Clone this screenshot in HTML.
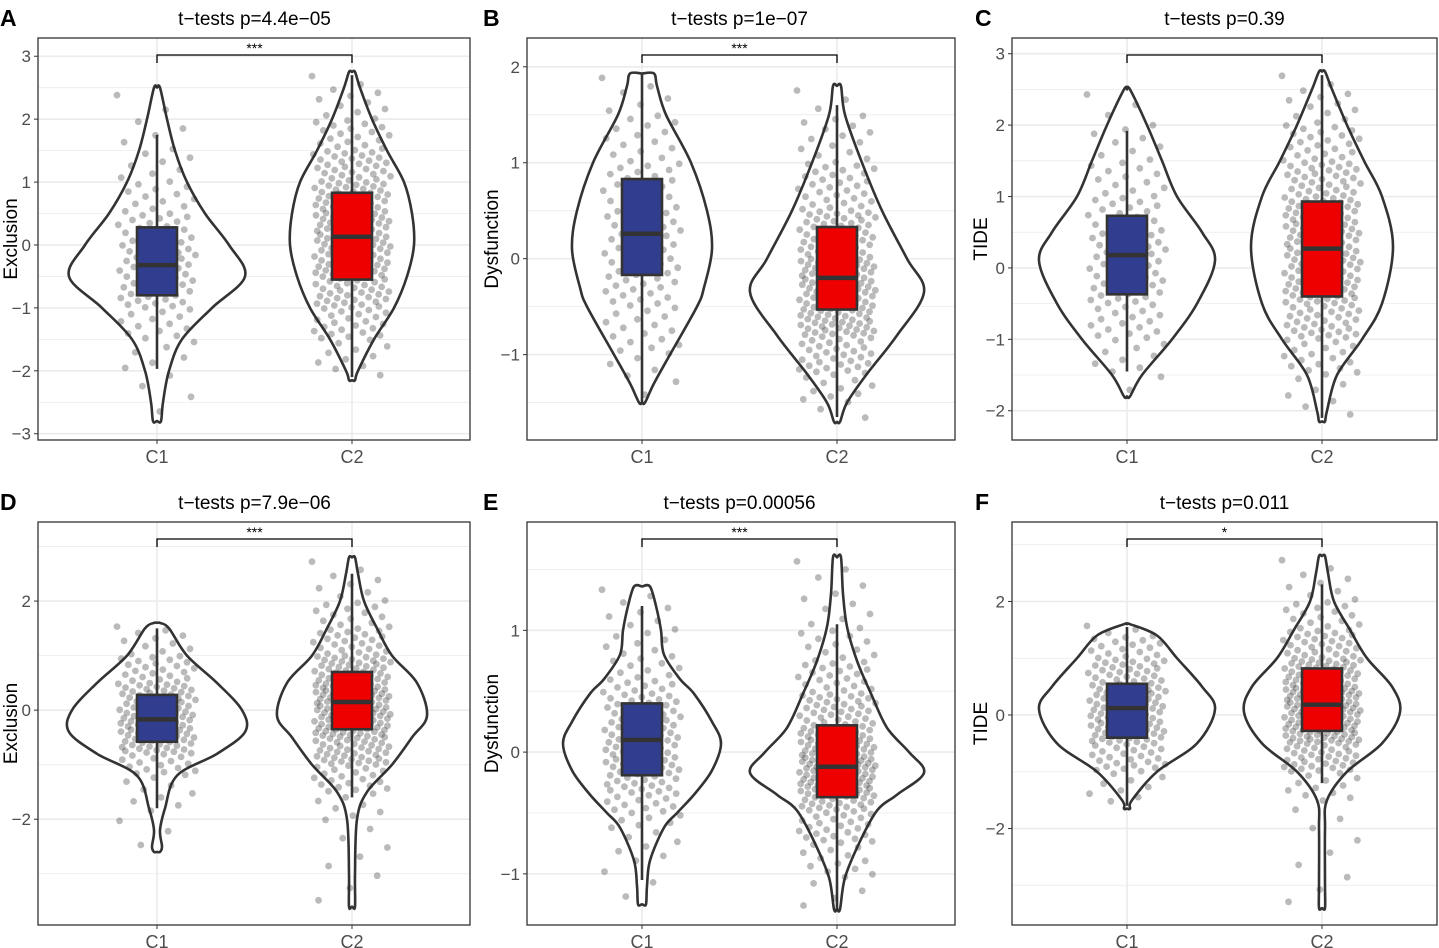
<!DOCTYPE html>
<html><head><meta charset="utf-8">
<style>
body{margin:0;background:#fff;}
svg{display:block;font-family:"Liberation Sans",Arial,sans-serif;}
</style></head>
<body>
<svg id="chart" width="1439" height="948" viewBox="0 0 1439 948"></svg>
<script>
// ---- data ----
const groups = ["C1", "C2"];
const panelLetters = ["A","B","C","D","E","F"];
const panelTitles = ["t\u2212tests p=4.4e\u221205","t\u2212tests p=1e\u221207","t\u2212tests p=0.39","t\u2212tests p=7.9e\u221206","t\u2212tests p=0.00056","t\u2212tests p=0.011"];
const yLabels = ["Exclusion","Dysfunction","TIDE","Exclusion","Dysfunction","TIDE"];
const stars = ["***","***","","***","***","*"];
const yTicks = [[-3,-2,-1,0,1,2,3],[-1,0,1,2],[-2,-1,0,1,2,3],[-2,0,2],[-1,0,1],[-2,0,2]];
const yDomains = [[-3.10,3.29],[-1.89,2.30],[-2.41,3.22],[-3.94,3.45],[-1.42,1.89],[-3.70,3.40]];
// violin density profiles: values and half-widths (px) for each panel [C1, C2]
const violinValues = [
 [[2.5,2,1.5,1,0.5,0,-0.5,-1,-1.5,-2,-2.5,-2.8],[2.75,2.5,2,1.5,1,0.5,0,-0.5,-1,-1.5,-2,-2.15]],
 [[1.93,1.8,1.5,1,0.5,0.1,-0.3,-0.5,-1,-1.3,-1.5],[1.8,1.5,1,0.5,0,-0.35,-0.8,-1.2,-1.5,-1.7]],
 [[2.5,2,1.5,1,0.5,0.1,-0.5,-1,-1.5,-1.8],[2.75,2.5,2,1.5,1,0.3,-0.5,-1,-1.5,-2,-2.15]],
 [[1.6,1.5,1,0.5,0,-0.4,-0.8,-1.2,-1.8,-2.2,-2.5,-2.6],[2.8,2.5,2,1.5,1,0.5,-0.1,-0.5,-1,-1.5,-2,-3,-3.6]],
 [[1.36,1.2,1.0,0.8,0.6,0.48,0.25,0.07,-0.15,-0.34,-0.5,-0.62,-0.89,-1.1,-1.25],[1.6,1.3,1.03,0.75,0.48,0.2,0,-0.17,-0.35,-0.48,-0.75,-1.03,-1.29]],
 [[1.6,1.4,1,0.5,0.1,-0.5,-1,-1.5,-1.65],[2.8,2.5,2,1.5,1,0.5,0.05,-0.5,-1,-1.5,-2,-3,-3.4]]
];
const violinWidths = [
 [[3,10,18,30,48,72,88,55,25,12,6,4],[3,8,20,35,52,60,62,55,42,22,6,3]],
 [[12,15,24,49,65,70,62,55,28,12,3],[4,8,25,45,70,87,60,30,10,3]],
 [[3,20,35,50,75,88,70,45,15,3],[3,10,25,42,60,71,60,40,15,5,3]],
 [[3,12,30,60,85,88,60,20,8,3,5,3],[3,6,12,25,40,65,75,60,40,15,5,3,3]],
 [[8,14,19,22,38,52,70,79,70,53,35,22,8,5,4],[4,6,10,20,34,50,72,87,60,40,22,8,3]],
 [[3,30,50,75,88,70,30,5,3],[3,6,12,28,45,70,78,60,25,5,3,3,3]]
];
// box stats [whiskerLow, q1, median, q3, whiskerHigh]
const boxStats = [
 [[-1.97,-0.8,-0.32,0.28,1.75],[-2.1,-0.55,0.13,0.83,2.7]],
 [[-1.5,-0.17,0.26,0.83,1.93],[-1.65,-0.53,-0.2,0.33,1.6]],
 [[-1.45,-0.37,0.18,0.73,1.92],[-2.1,-0.4,0.27,0.93,2.7]],
 [[-1.8,-0.58,-0.17,0.28,1.5],[-1.6,-0.35,0.15,0.7,2.5]],
 [[-1.05,-0.19,0.1,0.4,1.2],[-1.3,-0.37,-0.12,0.22,1.05]],
 [[-1.6,-0.4,0.12,0.55,1.55],[-1.2,-0.28,0.18,0.82,2.3]]
];
const sampleSizes = [[120,250],[120,250],[120,250],[160,260],[160,260],[160,260]];
const boxColors = ["#313d8f","#ee0000"];

// ---- layout ----
const plotX = [[38,470],[527,955],[1012,1437]];
const groupX = [[157,352],[642,837],[1127,1322]];
const plotY = [[38,440],[522,925]];
const svg = document.getElementById('chart');
const NS = "http://www.w3.org/2000/svg";
function mk(tag, attrs, parent){const e=document.createElementNS(NS,tag);for(const k in attrs)e.setAttribute(k,attrs[k]);(parent||svg).appendChild(e);return e;}

function smoothPath(pts){
  let d="M"+pts[0][0]+","+pts[0][1];
  for(let i=0;i<pts.length-1;i++){
    const p0=pts[Math.max(0,i-1)],p1=pts[i],p2=pts[i+1],p3=pts[Math.min(pts.length-1,i+2)];
    const c1=[p1[0]+(p2[0]-p0[0])/6,p1[1]+(p2[1]-p0[1])/6];
    const c2=[p2[0]-(p3[0]-p1[0])/6,p2[1]-(p3[1]-p1[1])/6];
    d+=" C"+c1[0].toFixed(1)+","+c1[1].toFixed(1)+" "+c2[0].toFixed(1)+","+c2[1].toFixed(1)+" "+p2[0].toFixed(1)+","+p2[1].toFixed(1);
  }
  return d;
}

for(let p=0;p<6;p++){
  const col=p%3,row=Math.floor(p/3);
  const [x0,x1]=plotX[col],[y0,y1]=plotY[row];
  const [dmin,dmax]=yDomains[p];
  const yS=v=>y1-(v-dmin)/(dmax-dmin)*(y1-y0);
  const xC=groupX[col];
  const g=mk('g',{});
  
  
  mk('rect',{x:x0,y:y0,width:x1-x0,height:y1-y0,fill:'#fff'},g);
  const tk=yTicks[p]; const step=tk[1]-tk[0];
  for(let v=tk[0]-step/2;v<=dmax;v+=step/2){
    if(v<dmin)continue;
    const major=tk.some(t=>Math.abs(t-v)<1e-6);
    const gl=mk('line',{x1:x0,x2:x1,y1:yS(v),y2:yS(v),stroke:'#ebebeb','stroke-width':major?1.6:0.8},g);
    
    
  }
  xC.forEach(x=>{const gl=mk('line',{x1:x,x2:x,y1:y0,y2:y1,stroke:'#ebebeb','stroke-width':1.6},g);
    });
  tk.forEach(t=>{
    const y=yS(t);
    mk('line',{x1:x0-4,x2:x0,y1:y,y2:y,stroke:'#333','stroke-width':1},g);
    const tl=mk('text',{x:x0-7,y:y+6,'text-anchor':'end','font-size':17,fill:'#4d4d4d'},g);
    tl.textContent=t<0?'\u2212'+Math.abs(t):String(t);
    
  });
  groups.forEach((gn,i)=>{
    mk('line',{x1:xC[i],x2:xC[i],y1:y1,y2:y1+4,stroke:'#333','stroke-width':1},g);
    const xl=mk('text',{x:xC[i],y:y1+23,'text-anchor':'middle','font-size':18,fill:'#4d4d4d'},g);
    xl.textContent=gn;
    
  });
  groups.forEach((gn,i)=>{
    const vals=violinValues[p][i],wds=violinWidths[p][i],cx=xC[i];
    const right=vals.map((v,k)=>[cx+wds[k],yS(v)]);
    const left=vals.map((v,k)=>[cx-wds[k],yS(v)]).reverse();
    const pts=[[cx,yS(vals[0])],...right,[cx,yS(vals[vals.length-1])],...left,[cx,yS(vals[0])]];
    const vp=mk('path',{d:smoothPath(pts),fill:'#fff',stroke:'#333','stroke-width':2.6,'stroke-linejoin':'round'},g);
    
    
    const cum=[0];
    for(let k=1;k<vals.length;k++)cum.push(cum[k-1]+(wds[k]+wds[k-1])/2*(vals[k-1]-vals[k]));
    const tot=cum[cum.length-1];
    const n=sampleSizes[p][i];
    for(let j=0;j<n;j++){
      const q=((j+0.5)/n)*tot;
      let k=1;while(k<cum.length-1&&cum[k]<q)k++;
      const f=(q-cum[k-1])/(cum[k]-cum[k-1]||1);
      const v=vals[k-1]+(vals[k]-vals[k-1])*f;
      const jx=(((j*0.618034)%1)-0.5)*2*38 + ((j*0.41421)%1-0.5)*4;
      const pt=mk('circle',{cx:(cx+jx).toFixed(1),cy:yS(v).toFixed(1),r:3.4,fill:'rgba(40,40,40,0.32)'},g);
      
      
    }
    const [wl,q1,md,q3,wh]=boxStats[p][i];
    const wk=mk('line',{x1:cx,x2:cx,y1:yS(wl),y2:yS(wh),stroke:'#333','stroke-width':2.6},g);
    
    const bx=mk('rect',{x:cx-20,y:yS(q3),width:40,height:yS(q1)-yS(q3),fill:boxColors[i],stroke:'#333','stroke-width':2.6},g);
    
    const ml=mk('line',{x1:cx-20,x2:cx+20,y1:yS(md),y2:yS(md),stroke:'#333','stroke-width':4.5},g);
    
  });
  mk('rect',{x:x0,y:y0,width:x1-x0,height:y1-y0,fill:'none',stroke:'#333','stroke-width':1.3},g);
  const by=y0+17;
  const br=mk('path',{d:`M${xC[0]},${by+8} V${by} H${xC[1]} V${by+8}`,fill:'none',stroke:'#000','stroke-width':1.3},g);
  
  if(stars[p]){const st=mk('text',{x:(xC[0]+xC[1])/2,y:by-2,'text-anchor':'middle','font-size':14,fill:'#000'},g);
    st.textContent=stars[p];}
  const tt=mk('text',{x:(xC[0]+xC[1])/2,y:y0-13,'text-anchor':'middle','font-size':19,fill:'#000'},g);
  tt.textContent=panelTitles[p];
  const lt=mk('text',{x:[0,483,975][col],y:y0-12,'font-size':23,'font-weight':'bold',fill:'#000'},g);
  lt.textContent=panelLetters[p];
  const yl=mk('text',{x:0,y:0,'text-anchor':'middle','font-size':19,fill:'#000',transform:`translate(${[17,498,987][col]},${(y0+y1)/2}) rotate(-90)`},g);
  yl.textContent=yLabels[p];
}
</script>
</body></html>
